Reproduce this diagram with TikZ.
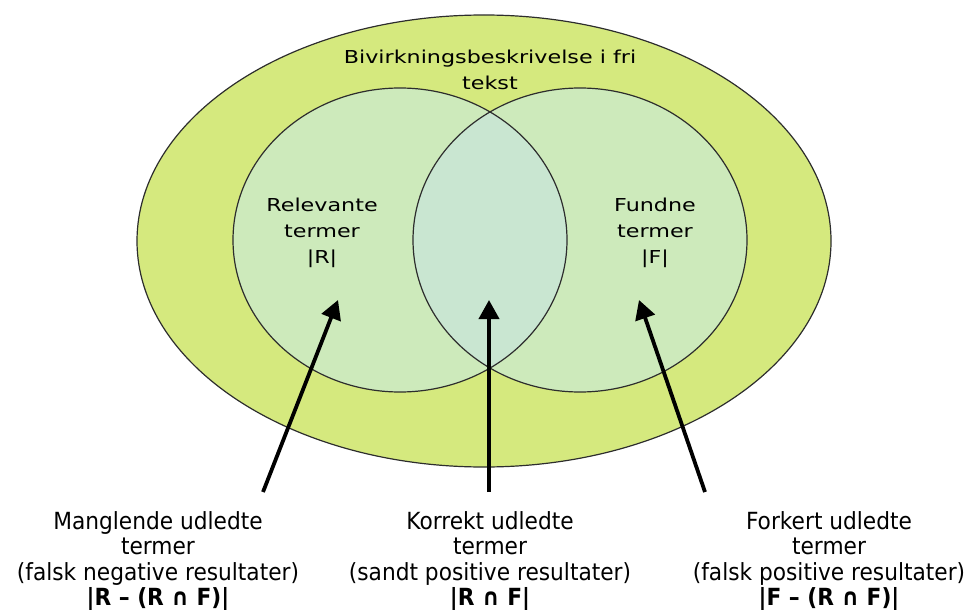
\documentclass[tikz,border=0pt]{standalone}
\usepackage{fontspec}
\usetikzlibrary{arrows.meta,shapes.geometric}

% Fonts: wide sans for the set labels, narrower sans for the captions
\newfontfamily\setlabelfont[FakeStretch=1.25]{DejaVu Sans}
\newfontfamily\captionfont[FakeStretch=0.92]{DejaVu Sans}

\definecolor{outerfill}{RGB}{213,233,126}
\definecolor{setfill}{RGB}{205,234,187}
\definecolor{lensfill}{RGB}{201,230,209}
\definecolor{rimcol}{RGB}{45,45,45}

\tikzset{
  rim/.style={draw=rimcol, line width=0.6pt},
  setshape/.style={ellipse, minimum width=167pt, minimum height=152pt,
    inner sep=0pt, outer sep=0pt, fill=setfill},
  setlabel/.style={align=center, inner sep=0pt,
    font=\setlabelfont\fontsize{8.9}{13}\selectfont},
  caption/.style={align=center, anchor=north, inner sep=0pt,
    font=\captionfont\fontsize{11.8}{12.75}\selectfont},
  pointer/.style={line width=1.9pt, draw=black,
    -{Triangle[length=9.5pt,width=10pt]}},
}

\begin{document}
\begin{tikzpicture}[x=0.5pt,y=-0.5pt]
  \useasboundingbox (0,0) rectangle (972,609);

  % universe: the free-text description
  \node[ellipse, minimum width=347pt, minimum height=226pt, inner sep=0pt,
        fill=outerfill, rim] (freetext) at (484,241) {};

  % the two sets
  \node[setshape] (relset) at (400,240) {};
  \node[setshape] (fndset) at (580,240) {};

  % their intersection
  \begin{scope}
    \clip (relset.center) ellipse [x radius=167, y radius=152];
    \fill[lensfill] (fndset.center) ellipse [x radius=167, y radius=152];
  \end{scope}

  % outlines of the sets
  \draw[rim] (relset.center) ellipse [x radius=167, y radius=152];
  \draw[rim] (fndset.center) ellipse [x radius=167, y radius=152];

  % labels inside the diagram
  \node[setlabel] (freelbl) at (490,70) {Bivirkningsbeskrivelse i fri\\tekst};
  \node[setlabel] (rellbl) at (322,233) {Relevante\\termer\\|R|};
  \node[setlabel] (fndlbl) at (655,233) {Fundne\\termer\\|F|};

  % captions below
  \node[caption] (capmiss) at (158,511)
    {Manglende udledte\\termer\\(falsk negative resultater)\\\textbf{|R – (R ∩ F)|}};
  \node[caption] (capok) at (490,511)
    {Korrekt udledte\\termer\\(sandt positive resultater)\\\textbf{|R ∩ F|}};
  \node[caption] (capwrong) at (829,511)
    {Forkert udledte\\termer\\(falsk positive resultater)\\\textbf{|F – (R ∩ F)|}};

  % arrow ends
  \coordinate (missfrom) at (263,492);
  \coordinate (missto)   at (338,300);
  \coordinate (okfrom)   at (489,492);
  \coordinate (okto)     at (489,300);
  \coordinate (wrongfrom) at (705,492);
  \coordinate (wrongto)   at (639,300);

  \draw[pointer] (missfrom) -- (missto);
  \draw[pointer] (okfrom) -- (okto);
  \draw[pointer] (wrongfrom) -- (wrongto);
\end{tikzpicture}
\end{document}
